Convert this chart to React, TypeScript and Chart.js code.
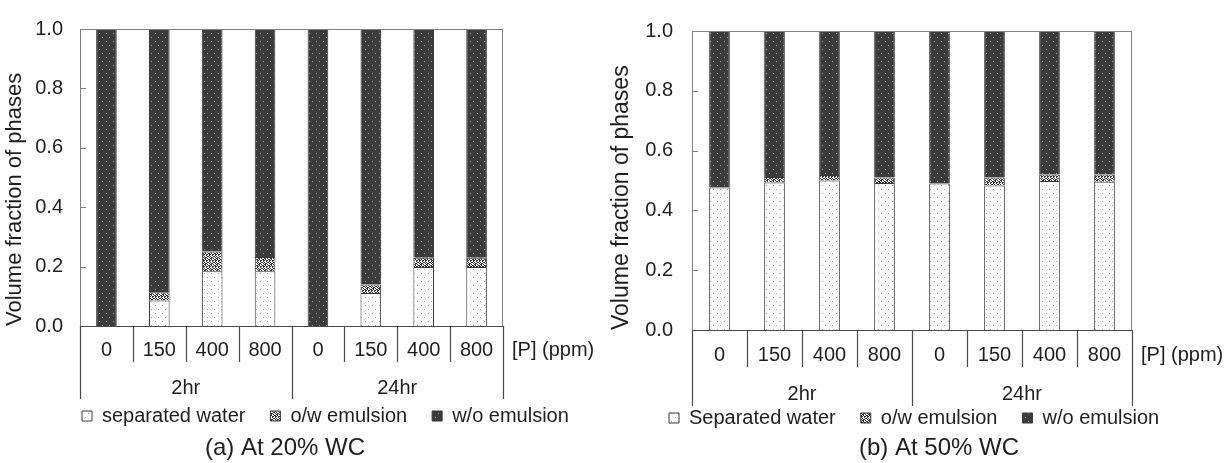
import React, { useEffect, useRef } from 'react';
import { Chart, registerables } from 'chart.js';

Chart.register(...registerables);

// ---------- data ----------
const categories = ['0', '150', '400', '800', '0', '150', '400', '800'];
const groupLabels = ['2hr', '24hr'];
const yTickValues = [0, 0.2, 0.4, 0.6, 0.8, 1.0];
const unitLabel = '[P] (ppm)';
const yTitle = 'Volume fraction of phases';

const wc20Labels = ['separated water', 'o/w emulsion', 'w/o emulsion'];
const wc20Water = [0, 0.086, 0.184, 0.184, 0, 0.111, 0.199, 0.199];
const wc20OW = [0, 0.028, 0.067, 0.048, 0, 0.029, 0.031, 0.031];
const wc20WO = [1, 0.886, 0.749, 0.768, 1, 0.86, 0.77, 0.77];
const wc20Title = '(a) At 20% WC';

const wc50Labels = ['Separated water', 'o/w emulsion', 'w/o emulsion'];
const wc50Water = [0.477, 0.493, 0.5, 0.492, 0.49, 0.483, 0.498, 0.496];
const wc50OW = [0, 0.019, 0.018, 0.018, 0, 0.027, 0.022, 0.024];
const wc50WO = [0.523, 0.488, 0.482, 0.49, 0.51, 0.49, 0.48, 0.48];
const wc50Title = '(b) At 50% WC';

const FONT = "'Liberation Sans', Arial, Helvetica, sans-serif";
const TEXT = '#1e1e1e';
const H = 463;

function makePattern(kind: string): any {
  const c = document.createElement('canvas');
  if (kind === 'ow') {
    c.width = 6;
    c.height = 6;
  } else {
    c.width = 7;
    c.height = 8;
  }
  const ctx = c.getContext('2d');
  if (!ctx) return '#888';
  if (kind === 'water') {
    ctx.fillStyle = '#ffffff';
    ctx.fillRect(0, 0, 7, 8);
    ctx.fillStyle = '#9c9c9c';
    ctx.fillRect(1, 1, 1, 1);
    ctx.fillRect(4, 5, 1, 1);
  } else if (kind === 'wo') {
    ctx.fillStyle = '#3b3b3b';
    ctx.fillRect(0, 0, 7, 8);
    ctx.fillStyle = '#a4a4a4';
    ctx.fillRect(1, 1, 1, 1);
    ctx.fillRect(4, 5, 1, 1);
  } else {
    const rows = ['##.#..', '.#..##', '#.##.#', '..#..#', '#..##.', '.##..#'];
    ctx.fillStyle = '#f4f4f4';
    ctx.fillRect(0, 0, 6, 6);
    ctx.fillStyle = '#333333';
    rows.forEach((r, y) => {
      for (let x = 0; x < r.length; x++) if (r[x] === '#') ctx.fillRect(x, y, 1, 1);
    });
  }
  return ctx.createPattern(c, 'repeat') || '#888';
}

type Geo = {
  canvasLeft: number; canvasWidth: number;
  chartLeft: number; chartRight: number; chartTop: number; chartBottom: number;
  xH: number; xPad: number; x2Pad: number;
  catLineEnd: number; groupLineEnd: number;
  yTitleX: number; yTitleFont: number; yTickPad: number;
  legendX: number; legendY: number;
  titleX: number; titleY: number;
  unitDx: number; unitY: number;
  barPct: number;
};

const leftGeo: Geo = {
  canvasLeft: 0, canvasWidth: 614,
  chartLeft: 80, chartRight: 503, chartTop: 21, chartBottom: 326,
  xH: 48, xPad: 12.5, x2Pad: 2.5,
  catLineEnd: 362, groupLineEnd: 399,
  yTitleX: 15, yTitleFont: 22, yTickPad: 17,
  legendX: 82, legendY: 416,
  titleX: 285, titleY: 448,
  unitDx: 9, unitY: 350.5,
  barPct: 0.39,
};

const rightGeo: Geo = {
  canvasLeft: 604, canvasWidth: 624,
  chartLeft: 88, chartRight: 528, chartTop: 28, chartBottom: 330,
  xH: 48, xPad: 13, x2Pad: 4,
  catLineEnd: 367, groupLineEnd: 406,
  yTitleX: 18, yTitleFont: 23, yTickPad: 19,
  legendX: 65, legendY: 418,
  titleX: 335, titleY: 448,
  unitDx: 9, unitY: 355,
  barPct: 0.376,
};

type PanelProps = {
  geo: Geo; labels: string[]; water: number[]; ow: number[]; wo: number[]; title: string;
};

function Panel({ geo, labels, water, ow, wo, title }: PanelProps) {
  const ref = useRef<HTMLCanvasElement | null>(null);
  useEffect(() => {
    const canvas = ref.current;
    if (!canvas) return;
    const legendPad = 25;
    const legendFont = 20;
    const titleFont = 24;

    const decor = {
      id: 'decor',
      afterLayout(chart: any) {
        const L = chart.legend;
        if (L) {
          L.left = geo.legendX - legendPad;
          L.right = L.left + 2000;
          L.top = geo.legendY - legendPad - legendFont / 2;
          L.bottom = L.top + 100;
        }
        const T = chart.titleBlock;
        if (T) {
          const w = T.right - T.left;
          T.left = geo.titleX - w / 2;
          T.right = T.left + w;
          const h = T.bottom - T.top;
          T.top = geo.titleY - titleFont / 2;
          T.bottom = T.top + h;
        }
      },
      afterDraw(chart: any) {
        const { ctx, chartArea: a, scales } = chart;
        const xs = scales.x;
        const ys = scales.y;
        ctx.save();
        // plot frame
        ctx.strokeStyle = '#808080';
        ctx.lineWidth = 1;
        ctx.strokeRect(a.left + 0.5, a.top + 0.5, a.right - a.left - 1, a.bottom - a.top);
        // inner y tick marks
        yTickValues.forEach((v) => {
          if (v <= 0 || v >= 1) return;
          const py = Math.round(ys.getPixelForValue(v)) + 0.5;
          ctx.beginPath();
          ctx.moveTo(a.left, py);
          ctx.lineTo(a.left + 6, py);
          ctx.stroke();
        });
        // bottom axis line
        ctx.strokeStyle = '#4a4a4a';
        ctx.lineWidth = 1.2;
        ctx.beginPath();
        ctx.moveTo(a.left, Math.round(a.bottom) + 0.5);
        ctx.lineTo(a.right, Math.round(a.bottom) + 0.5);
        ctx.stroke();
        // category / group separators
        for (let i = 0; i <= categories.length; i++) {
          const px = Math.round(xs.getPixelForValue(i - 0.5)) + 0.5;
          const end = i % 4 === 0 ? geo.groupLineEnd : geo.catLineEnd;
          ctx.beginPath();
          ctx.moveTo(px, a.bottom);
          ctx.lineTo(px, end);
          ctx.stroke();
        }
        // unit label
        ctx.fillStyle = TEXT;
        ctx.font = `20px ${FONT}`;
        ctx.textAlign = 'left';
        ctx.textBaseline = 'middle';
        ctx.fillText(unitLabel, a.right + geo.unitDx, geo.unitY);
        ctx.restore();
      },
    };

    const ds = (label: string, data: number[], kind: string) => ({
      label,
      data,
      backgroundColor: makePattern(kind),
      borderColor: '#383838',
      borderWidth: 1,
      barPercentage: geo.barPct,
      categoryPercentage: 1,
      xAxisID: 'x',
      yAxisID: 'y',
    });

    const chart = new Chart(canvas, {
      type: 'bar',
      data: {
        labels: categories,
        datasets: [
          ds(labels[0], water, 'water'),
          ds(labels[1], ow, 'ow'),
          ds(labels[2], wo, 'wo'),
        ],
      },
      options: {
        responsive: false,
        animation: false,
        devicePixelRatio: 1,
        layout: {
          padding: { left: 0, top: geo.chartTop, right: geo.canvasWidth - geo.chartRight, bottom: 0 },
        },
        plugins: {
          legend: {
            position: 'bottom',
            align: 'start',
            maxHeight: 30,
            labels: {
              boxWidth: 10,
              boxHeight: 10,
              padding: legendPad,
              color: TEXT,
              font: { family: FONT, size: legendFont },
            },
          },
          title: {
            display: true,
            position: 'bottom',
            text: title,
            color: TEXT,
            font: { family: FONT, size: titleFont, weight: 'normal', lineHeight: 1 },
            padding: { top: 0, bottom: 0 },
          },
          tooltip: { enabled: false },
        },
        scales: {
          x: {
            type: 'category',
            position: 'bottom',
            stacked: true,
            offset: true,
            weight: 0,
            grid: { display: false, drawTicks: false },
            border: { display: false },
            ticks: {
              autoSkip: false,
              maxRotation: 0,
              padding: geo.xPad,
              color: TEXT,
              font: { family: FONT, size: 20 },
            },
            afterFit: (s: any) => {
              s.height = geo.xH;
            },
          },
          x2: {
            type: 'category',
            position: 'bottom',
            labels: groupLabels,
            offset: true,
            weight: 1,
            grid: { display: false, drawTicks: false },
            border: { display: false },
            ticks: {
              autoSkip: false,
              maxRotation: 0,
              padding: geo.x2Pad,
              color: TEXT,
              font: { family: FONT, size: 20 },
            },
            afterFit: (s: any) => {
              const c: any = s.chart;
              const lh = c.legend ? c.legend.height : 0;
              const th = c.titleBlock ? c.titleBlock.height : 0;
              s.height = Math.max(0, H - geo.chartBottom - geo.xH - lh - th);
            },
          },
          y: {
            type: 'linear',
            stacked: true,
            min: 0,
            max: 1,
            grid: { display: false, drawTicks: false },
            border: { display: false },
            ticks: {
              stepSize: 0.2,
              padding: geo.yTickPad,
              color: TEXT,
              font: { family: FONT, size: 20 },
              callback: (v: any) => Number(v).toFixed(1),
            },
            title: {
              display: true,
              text: yTitle,
              align: 'start',
              color: TEXT,
              font: { family: FONT, size: geo.yTitleFont, lineHeight: 1.2 },
              padding: { top: geo.yTitleX - (geo.yTitleFont * 1.2) / 2, bottom: 0 },
            },
            afterFit: (s: any) => {
              s.width = geo.chartLeft;
            },
          },
        },
      } as any,
      plugins: [decor],
    });
    return () => chart.destroy();
  }, []);
  return (
    <canvas
      ref={ref}
      width={geo.canvasWidth}
      height={H}
      style={{ position: 'absolute', left: geo.canvasLeft, top: 0, width: geo.canvasWidth, height: H }}
    />
  );
}

export default function App() {
  return (
    <div style={{ position: 'absolute', left: 0, top: 0, width: 1228, height: H, background: '#fff' }}>
      <Panel geo={leftGeo} labels={wc20Labels} water={wc20Water} ow={wc20OW} wo={wc20WO} title={wc20Title} />
      <Panel geo={rightGeo} labels={wc50Labels} water={wc50Water} ow={wc50OW} wo={wc50WO} title={wc50Title} />
    </div>
  );
}
